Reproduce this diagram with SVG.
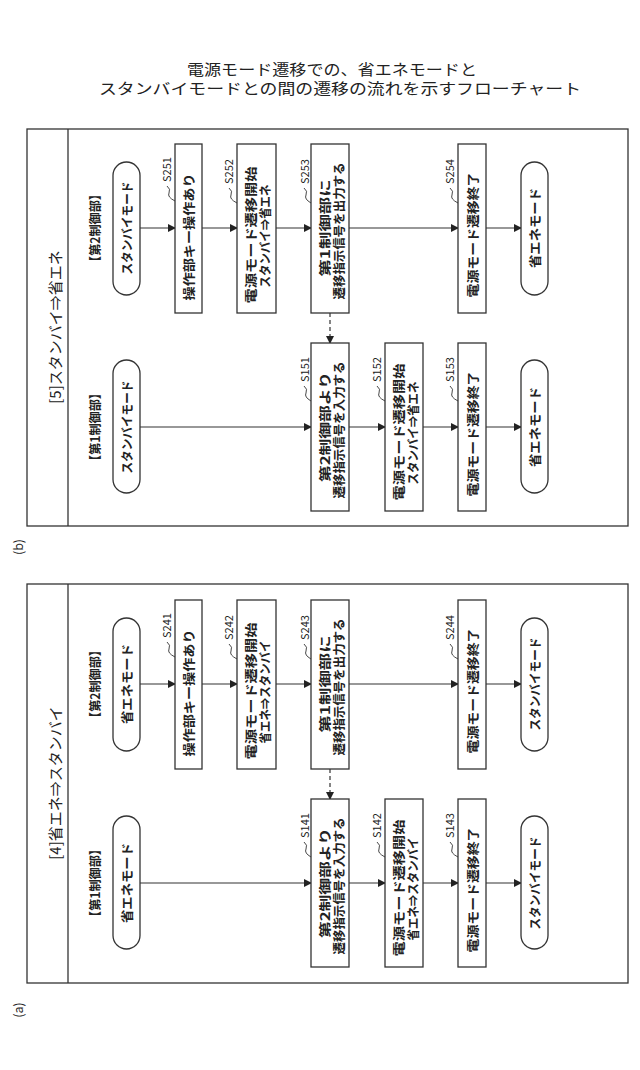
<svg xmlns="http://www.w3.org/2000/svg" width="640" height="1070" viewBox="0 0 640 1070">
<defs>
<marker id="ah" markerWidth="8" markerHeight="8" refX="7" refY="4" orient="auto" markerUnits="userSpaceOnUse"><path d="M0,0 L8,4 L0,8 Z" fill="#222"/></marker>
<style>
text{font-family:"Noto Sans CJK JP","Liberation Sans",sans-serif;fill:#222}
.t{font-size:12.5px;text-anchor:middle;dominant-baseline:central}
.b{font-weight:bold}
.lb{font-size:11px;dominant-baseline:central}
.frame{fill:none;stroke:#333;stroke-width:1.3}
.box{fill:#fff;stroke:#333;stroke-width:1.3}
.c{stroke:#333;stroke-width:1.2;fill:none;marker-end:url(#ah)}
.d{stroke:#333;stroke-width:1.2;fill:none;stroke-dasharray:4,3;marker-end:url(#ah)}
.sq{stroke:#333;stroke-width:0.9;fill:none}
</style>
</defs>
<rect width="640" height="1070" fill="#fff"/>
<g id="title">
<text x="332" y="75" font-size="15" text-anchor="middle" textLength="290" lengthAdjust="spacingAndGlyphs">電源モード遷移での、省エネモードと</text>
<text x="340" y="94" font-size="15" text-anchor="middle" textLength="482" lengthAdjust="spacingAndGlyphs">スタンバイモードとの間の遷移の流れを示すフローチャート</text>
</g>

<!-- Panel (b) -->
<g id="panel-b">
<rect class="frame" x="27" y="129" width="601" height="397"/>
<line class="frame" x1="68" y1="129" x2="68" y2="526"/>
<text class="t" transform="translate(54,327) rotate(-90)" style="font-size:15px">[5]スタンバイ⇒省エネ</text>
<text class="t" transform="translate(17,547) rotate(-90)">(b)</text>
<text class="t b" transform="translate(94,228) rotate(-90)" textLength="80" lengthAdjust="spacingAndGlyphs">【第2制御部】</text>
<text class="t b" transform="translate(94,427) rotate(-90)" textLength="80" lengthAdjust="spacingAndGlyphs">【第1制御部】</text>
<g id="connectors-b">
<line class="c" x1="140" y1="228" x2="175" y2="228"/>
<line class="c" x1="202" y1="228" x2="237" y2="228"/>
<line class="c" x1="276" y1="228" x2="311" y2="228"/>
<line class="c" x1="349" y1="228" x2="458" y2="228"/>
<line class="c" x1="486" y1="228" x2="521" y2="228"/>
<line class="c" x1="140" y1="427" x2="311" y2="427"/>
<line class="c" x1="349" y1="427" x2="385" y2="427"/>
<line class="c" x1="423" y1="427" x2="458" y2="427"/>
<line class="c" x1="486" y1="427" x2="521" y2="427"/>
<line class="d" x1="330" y1="313" x2="330" y2="343"/>
</g>
<g id="b-start2"><rect class="box" x="113" y="162" width="27" height="133" rx="13.5"/><text class="t b" transform="translate(126.5,228) rotate(-90)" textLength="93" lengthAdjust="spacingAndGlyphs">スタンバイモード</text></g>
<g id="S251"><rect class="box" x="175" y="144" width="27" height="169"/><text class="t b" transform="translate(188.5,237) rotate(-90)" textLength="127" lengthAdjust="spacingAndGlyphs">操作部キー操作あり</text>
<text class="lb" transform="translate(166,182) rotate(-90)">S251</text><path class="sq" d="M167,186 q4,3 2,7 t6,8"/></g>
<g id="S252"><rect class="box" x="237" y="144" width="39" height="169"/><text class="t b" transform="translate(250,235) rotate(-90)" textLength="137" lengthAdjust="spacingAndGlyphs">電源モード遷移開始</text><text class="t b" transform="translate(264,236) rotate(-90)" textLength="103" lengthAdjust="spacingAndGlyphs">スタンバイ⇒省エネ</text>
<text class="lb" transform="translate(228,184) rotate(-90)">S252</text><path class="sq" d="M229,188 q4,3 2,7 t6,8"/></g>
<g id="S253"><rect class="box" x="311" y="144" width="38" height="169"/><text class="t b" transform="translate(324,228) rotate(-90)" textLength="97" lengthAdjust="spacingAndGlyphs">第1制御部に</text><text class="t b" transform="translate(338,231) rotate(-90)" textLength="137" lengthAdjust="spacingAndGlyphs">遷移指示信号を出力する</text>
<text class="lb" transform="translate(304,184) rotate(-90)">S253</text><path class="sq" d="M304,188 q4,3 2,7 t5,8"/></g>
<g id="S254"><rect class="box" x="458" y="144" width="28" height="169"/><text class="t b" transform="translate(472,235) rotate(-90)" textLength="125" lengthAdjust="spacingAndGlyphs">電源モード遷移終了</text>
<text class="lb" transform="translate(449,184) rotate(-90)">S254</text><path class="sq" d="M450,188 q4,3 2,7 t6,8"/></g>
<g id="b-end2"><rect class="box" x="521" y="162" width="27" height="133" rx="13.5"/><text class="t b" transform="translate(534.5,228) rotate(-90)" textLength="80" lengthAdjust="spacingAndGlyphs">省エネモード</text></g>
<g id="b-start1"><rect class="box" x="113" y="360" width="27" height="133" rx="13.5"/><text class="t b" transform="translate(126.5,427) rotate(-90)" textLength="93" lengthAdjust="spacingAndGlyphs">スタンバイモード</text></g>
<g id="S151"><rect class="box" x="311" y="343" width="38" height="168"/><text class="t b" transform="translate(324,427) rotate(-90)" textLength="110" lengthAdjust="spacingAndGlyphs">第2制御部より</text><text class="t b" transform="translate(338,430) rotate(-90)" textLength="137" lengthAdjust="spacingAndGlyphs">遷移指示信号を入力する</text>
<text class="lb" transform="translate(304,382) rotate(-90)">S151</text><path class="sq" d="M304,386 q4,3 2,7 t5,8"/></g>
<g id="S152"><rect class="box" x="385" y="343" width="38" height="168"/><text class="t b" transform="translate(398,432) rotate(-90)" textLength="137" lengthAdjust="spacingAndGlyphs">電源モード遷移開始</text><text class="t b" transform="translate(412,433) rotate(-90)" textLength="103" lengthAdjust="spacingAndGlyphs">スタンバイ⇒省エネ</text>
<text class="lb" transform="translate(376,382) rotate(-90)">S152</text><path class="sq" d="M377,386 q4,3 2,7 t6,8"/></g>
<g id="S153"><rect class="box" x="458" y="343" width="28" height="168"/><text class="t b" transform="translate(472,434) rotate(-90)" textLength="125" lengthAdjust="spacingAndGlyphs">電源モード遷移終了</text>
<text class="lb" transform="translate(449,382) rotate(-90)">S153</text><path class="sq" d="M450,386 q4,3 2,7 t6,8"/></g>
<g id="b-end1"><rect class="box" x="521" y="360" width="27" height="133" rx="13.5"/><text class="t b" transform="translate(534.5,427) rotate(-90)" textLength="80" lengthAdjust="spacingAndGlyphs">省エネモード</text></g>
</g>

<!-- Panel (a) -->
<g id="panel-a" transform="translate(0,456)">
<rect class="frame" x="27" y="128" width="601" height="399"/>
<line class="frame" x1="68" y1="128" x2="68" y2="527"/>
<text class="t" transform="translate(54,327) rotate(-90)" style="font-size:15px">[4]省エネ⇒スタンバイ</text>
<text class="t" transform="translate(17,554) rotate(-90)">(a)</text>
<text class="t b" transform="translate(94,228) rotate(-90)" textLength="80" lengthAdjust="spacingAndGlyphs">【第2制御部】</text>
<text class="t b" transform="translate(94,427) rotate(-90)" textLength="80" lengthAdjust="spacingAndGlyphs">【第1制御部】</text>
<g id="connectors-a">
<line class="c" x1="140" y1="228" x2="175" y2="228"/>
<line class="c" x1="202" y1="228" x2="237" y2="228"/>
<line class="c" x1="276" y1="228" x2="311" y2="228"/>
<line class="c" x1="349" y1="228" x2="458" y2="228"/>
<line class="c" x1="486" y1="228" x2="521" y2="228"/>
<line class="c" x1="140" y1="427" x2="311" y2="427"/>
<line class="c" x1="349" y1="427" x2="385" y2="427"/>
<line class="c" x1="423" y1="427" x2="458" y2="427"/>
<line class="c" x1="486" y1="427" x2="521" y2="427"/>
<line class="d" x1="330" y1="313" x2="330" y2="343"/>
</g>
<g id="a-start2"><rect class="box" x="113" y="162" width="27" height="133" rx="13.5"/><text class="t b" transform="translate(126.5,228) rotate(-90)" textLength="80" lengthAdjust="spacingAndGlyphs">省エネモード</text></g>
<g id="S241"><rect class="box" x="175" y="144" width="27" height="169"/><text class="t b" transform="translate(188.5,237) rotate(-90)" textLength="127" lengthAdjust="spacingAndGlyphs">操作部キー操作あり</text>
<text class="lb" transform="translate(166,182) rotate(-90)">S241</text><path class="sq" d="M167,186 q4,3 2,7 t6,8"/></g>
<g id="S242"><rect class="box" x="237" y="144" width="39" height="169"/><text class="t b" transform="translate(250,235) rotate(-90)" textLength="137" lengthAdjust="spacingAndGlyphs">電源モード遷移開始</text><text class="t b" transform="translate(264,236) rotate(-90)" textLength="103" lengthAdjust="spacingAndGlyphs">省エネ⇒スタンバイ</text>
<text class="lb" transform="translate(228,184) rotate(-90)">S242</text><path class="sq" d="M229,188 q4,3 2,7 t6,8"/></g>
<g id="S243"><rect class="box" x="311" y="144" width="38" height="169"/><text class="t b" transform="translate(324,228) rotate(-90)" textLength="97" lengthAdjust="spacingAndGlyphs">第1制御部に</text><text class="t b" transform="translate(338,231) rotate(-90)" textLength="137" lengthAdjust="spacingAndGlyphs">遷移指示信号を出力する</text>
<text class="lb" transform="translate(304,184) rotate(-90)">S243</text><path class="sq" d="M304,188 q4,3 2,7 t5,8"/></g>
<g id="S244"><rect class="box" x="458" y="144" width="28" height="169"/><text class="t b" transform="translate(472,235) rotate(-90)" textLength="125" lengthAdjust="spacingAndGlyphs">電源モード遷移終了</text>
<text class="lb" transform="translate(449,184) rotate(-90)">S244</text><path class="sq" d="M450,188 q4,3 2,7 t6,8"/></g>
<g id="a-end2"><rect class="box" x="521" y="162" width="27" height="133" rx="13.5"/><text class="t b" transform="translate(534.5,228) rotate(-90)" textLength="93" lengthAdjust="spacingAndGlyphs">スタンバイモード</text></g>
<g id="a-start1"><rect class="box" x="113" y="360" width="27" height="133" rx="13.5"/><text class="t b" transform="translate(126.5,427) rotate(-90)" textLength="80" lengthAdjust="spacingAndGlyphs">省エネモード</text></g>
<g id="S141"><rect class="box" x="311" y="343" width="38" height="168"/><text class="t b" transform="translate(324,427) rotate(-90)" textLength="110" lengthAdjust="spacingAndGlyphs">第2制御部より</text><text class="t b" transform="translate(338,430) rotate(-90)" textLength="137" lengthAdjust="spacingAndGlyphs">遷移指示信号を入力する</text>
<text class="lb" transform="translate(304,382) rotate(-90)">S141</text><path class="sq" d="M304,386 q4,3 2,7 t5,8"/></g>
<g id="S142"><rect class="box" x="385" y="343" width="38" height="168"/><text class="t b" transform="translate(398,432) rotate(-90)" textLength="137" lengthAdjust="spacingAndGlyphs">電源モード遷移開始</text><text class="t b" transform="translate(412,433) rotate(-90)" textLength="103" lengthAdjust="spacingAndGlyphs">省エネ⇒スタンバイ</text>
<text class="lb" transform="translate(376,382) rotate(-90)">S142</text><path class="sq" d="M377,386 q4,3 2,7 t6,8"/></g>
<g id="S143"><rect class="box" x="458" y="343" width="28" height="168"/><text class="t b" transform="translate(472,434) rotate(-90)" textLength="125" lengthAdjust="spacingAndGlyphs">電源モード遷移終了</text>
<text class="lb" transform="translate(449,382) rotate(-90)">S143</text><path class="sq" d="M450,386 q4,3 2,7 t6,8"/></g>
<g id="a-end1"><rect class="box" x="521" y="360" width="27" height="133" rx="13.5"/><text class="t b" transform="translate(534.5,427) rotate(-90)" textLength="93" lengthAdjust="spacingAndGlyphs">スタンバイモード</text></g>
</g>
</svg>
